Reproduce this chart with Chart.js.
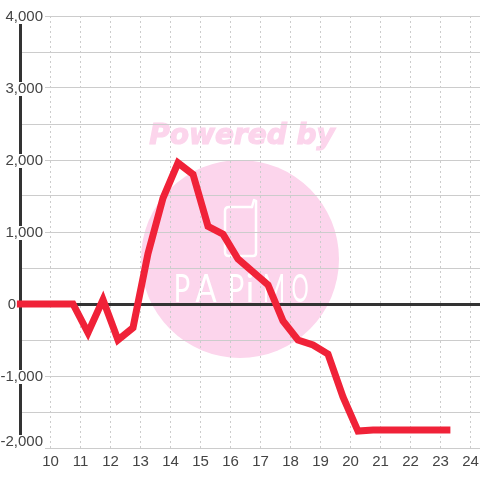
<!DOCTYPE html>
<html>
<head>
<meta charset="utf-8">
<style>
html, body { margin: 0; padding: 0; background: #fff; }
#wrap { width: 480px; height: 480px; }
</style>
<script src="https://cdn.jsdelivr.net/npm/chart.js@4"></script>
</head>
<body>
<div id="wrap"><canvas id="chart" width="480" height="480"></canvas></div>
<script>
let hours = [8.88, 10.75, 11.25, 11.75, 12.25, 12.75, 13.25, 13.75, 14.25, 14.75, 15.25, 15.75, 16.25, 16.75,
    17.25, 17.75, 18.25, 18.75, 19.25, 19.75, 20.25, 20.75, 21.25, 21.75, 22.25, 22.75, 23.33];
let values = [0, 0, -400, 60, -500, -330, 700, 1470, 1960, 1800, 1080, 970, 625, 445,
    265, -235, -500, -570, -695, -1290, -1765, -1750, -1750, -1750, -1750, -1750, -1750];
let yMin = -2000;
let yMax = 4000;
let yStep = 500;
let xTickMin = 9;
let xTickMax = 24.317;
let labelColor = "#444444";

// watermark behind the grid
let watermark = {
    id: "watermark",
    beforeDraw(chart) {
        let c = chart.ctx;
        c.save();
        c.fillStyle = "#fcd5ec";
        c.strokeStyle = "#fcd5ec";
        c.beginPath();
        c.arc(240, 259, 99, 0, Math.PI * 2);
        c.fill();
        c.font = "italic bold 28px 'DejaVu Sans'";
        c.textAlign = "center";
        c.textBaseline = "alphabetic";
        c.lineWidth = 1.2;
        c.fillText("Powered by", 242, 144);
        c.strokeText("Powered by", 242, 144);

        c.strokeStyle = "#ffffff";
        c.lineWidth = 2.5;
        c.lineJoin = "round";
        c.lineCap = "round";
        // phone
        c.beginPath();
        c.moveTo(252, 207);
        c.lineTo(229, 207);
        c.quadraticCurveTo(225, 207, 225, 211);
        c.lineTo(225, 252);
        c.quadraticCurveTo(225, 256, 229, 256);
        c.lineTo(253, 256);
        c.quadraticCurveTo(256, 256, 256, 253);
        c.lineTo(256, 201);
        c.stroke();
        c.beginPath();
        c.moveTo(252, 207);
        c.lineTo(254, 200);
        c.lineTo(256, 201);
        c.stroke();
        // logo name, one letter at a time
        c.font = "400 39px Lato";
        c.fillStyle = "#ffffff";
        c.textAlign = "center";
        let letters = ["P", "A", "P", "i", "M", "O"];
        let centers = [182, 206, 236, 250, 274, 300];
        let stretch = [0.7, 0.8, 0.7, 0.9, 0.62, 0.55];
        letters.forEach((l, i) => {
            c.save();
            c.translate(centers[i], 302);
            c.scale(stretch[i], 1);
            c.fillText(l, 0, 0);
            c.restore();
        });
        c.restore();
    }
};

// y labels sit inside the plot on a white box, on top of the grid
let yLabels = {
    id: "yLabels",
    beforeDatasetsDraw(chart) {
        let c = chart.ctx;
        let scale = chart.scales.y;
        c.save();
        c.font = "15px 'Liberation Sans'";
        c.textBaseline = "middle";
        c.textAlign = "right";
        scale.ticks.forEach(t => {
            if (t.value % 1000 !== 0) return;
            let py = scale.getPixelForValue(t.value);
            if (t.value === yMin) py -= 7;
            let label = t.value.toLocaleString("en-US");
            if (t.value !== 0) {
                c.fillStyle = "#ffffff";
                c.fillRect(0, py - 6, 45, 14);
            }
            c.fillStyle = labelColor;
            c.fillText(label, t.value === 0 ? 16 : 43, py + 1);
        });
        c.restore();
    }
};

let chart = new Chart(document.getElementById("chart").getContext("2d"), {
    type: "line",
    data: {
        datasets: [{
            data: hours.map((h, i) => ({ x: h, y: values[i] })),
            borderColor: "#f02238",
            borderWidth: 7,
            pointRadius: 0,
            tension: 0,
            clip: false,
            borderJoinStyle: "miter",
            borderCapStyle: "butt"
        }]
    },
    options: {
        responsive: false,
        animation: false,
        layout: { padding: { left: 20.5, top: 16, right: 0, bottom: 0 } },
        plugins: { legend: { display: false }, tooltip: { enabled: false } },
        scales: {
            x: {
                type: "linear",
                min: xTickMin,
                max: xTickMax,
                afterFit: s => { s.height = 32; s.paddingLeft = 0; s.paddingRight = 0; },
                border: { display: false, dash: [2, 3] },
                grid: { color: "#cccccc", lineWidth: 1, drawTicks: false },
                ticks: {
                    stepSize: 1,
                    includeBounds: false,
                    autoSkip: false,
                    maxRotation: 0,
                    padding: 5,
                    color: labelColor,
                    font: { family: "'Liberation Sans'", size: 15 },
                    callback: v => v === xTickMin ? "" : String(v)
                }
            },
            y: {
                min: yMin,
                max: yMax,
                afterFit: s => { s.width = 0; },
                border: { display: true, color: "#333333", width: 3 },
                grid: {
                    drawTicks: false,
                    color: ctx => ctx.tick.value === 0 ? "#333333" : "#cccccc",
                    lineWidth: ctx => ctx.tick.value === 0 ? 3 : 1
                },
                ticks: { stepSize: yStep, display: false }
            }
        }
    },
    plugins: [watermark, yLabels]
});
</script>
</body>
</html>
